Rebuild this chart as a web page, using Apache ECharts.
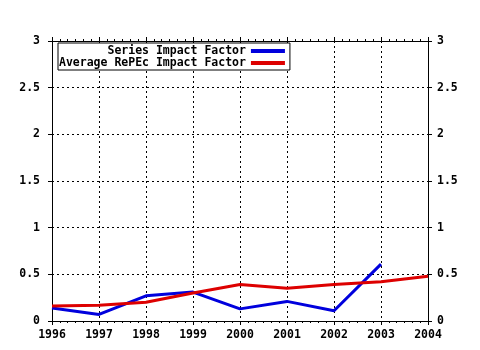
<!DOCTYPE html>
<html><head><meta charset="utf-8">
<script src="https://cdn.jsdelivr.net/npm/echarts@6/dist/echarts.min.js"></script>
<style>html,body{margin:0;padding:0;background:#fff}#c{width:480px;height:350px}</style>
</head><body><div id="c"></div>
<script>
const years = [1996, 1997, 1998, 1999, 2000, 2001, 2002, 2003, 2004];
const seriesNames = ['Series Impact Factor', 'Average RePEc Impact Factor'];
const seriesImpact = [0.14, 0.07, 0.27, 0.31, 0.13, 0.21, 0.11, 0.61, null];
const repecImpact = [0.16, 0.17, 0.20, 0.30, 0.39, 0.35, 0.39, 0.42, 0.48];
const yTicks = [0, 0.5, 1, 1.5, 2, 2.5, 3];

const FONT = 'DejaVu Sans Mono';
const lab = {color: '#000', fontFamily: FONT, fontWeight: 'bold', fontSize: 11.5};
const pairs = arr => years.map((y, i) => [y, arr[i]]);

const chart = echarts.init(document.getElementById('c'));
const xBase = {
  type: 'value', min: years[0], max: years[years.length - 1], interval: 1,
  axisLine: {show: true, onZero: false, lineStyle: {color: '#000', width: 1}},
  axisTick: {show: true, length: 4, lineStyle: {color: '#000'}},
  minorTick: {show: true, splitNumber: 6, length: 2, lineStyle: {color: '#000'}}
};
const yBase = {
  type: 'value', min: yTicks[0], max: yTicks[yTicks.length - 1], interval: 0.5,
  axisLine: {show: true, lineStyle: {color: '#000', width: 1}},
  axisTick: {show: true, length: 4, lineStyle: {color: '#000'}}
};
chart.setOption({
  animation: false,
  backgroundColor: '#fff',
  grid: {left: 52, right: 52, top: 41, bottom: 29},
  legend: {
    data: seriesNames, orient: 'vertical', align: 'right',
    left: 58, top: 43,
    icon: 'rect', itemWidth: 34, itemHeight: 4, itemGap: 0,
    padding: [2, 5, 1, 1],
    borderColor: '#000', borderWidth: 1, backgroundColor: '#fff',
    textStyle: lab
  },
  xAxis: [
    Object.assign({}, xBase, {
      position: 'bottom',
      axisLabel: Object.assign({margin: 8, formatter: v => String(v)}, lab),
      splitLine: {show: true, lineStyle: {color: '#000', type: [2, 3], width: 1}}
    }),
    Object.assign({}, xBase, {
      position: 'top', axisLabel: {show: false}, splitLine: {show: false}
    })
  ],
  yAxis: [
    Object.assign({}, yBase, {
      position: 'left',
      axisLabel: Object.assign({margin: 12}, lab),
      splitLine: {show: true, lineStyle: {color: '#000', type: [2, 3], width: 1}}
    }),
    Object.assign({}, yBase, {
      position: 'right',
      axisLabel: Object.assign({margin: 9}, lab),
      splitLine: {show: false}
    })
  ],
  series: [
    {name: seriesNames[0], type: 'line', data: pairs(seriesImpact), showSymbol: false,
     connectNulls: false, lineStyle: {color: '#0000dd', width: 3}, itemStyle: {color: '#0000dd'}},
    {name: seriesNames[1], type: 'line', data: pairs(repecImpact), showSymbol: false,
     lineStyle: {color: '#dd0000', width: 3}, itemStyle: {color: '#dd0000'}}
  ]
});
</script></body></html>
